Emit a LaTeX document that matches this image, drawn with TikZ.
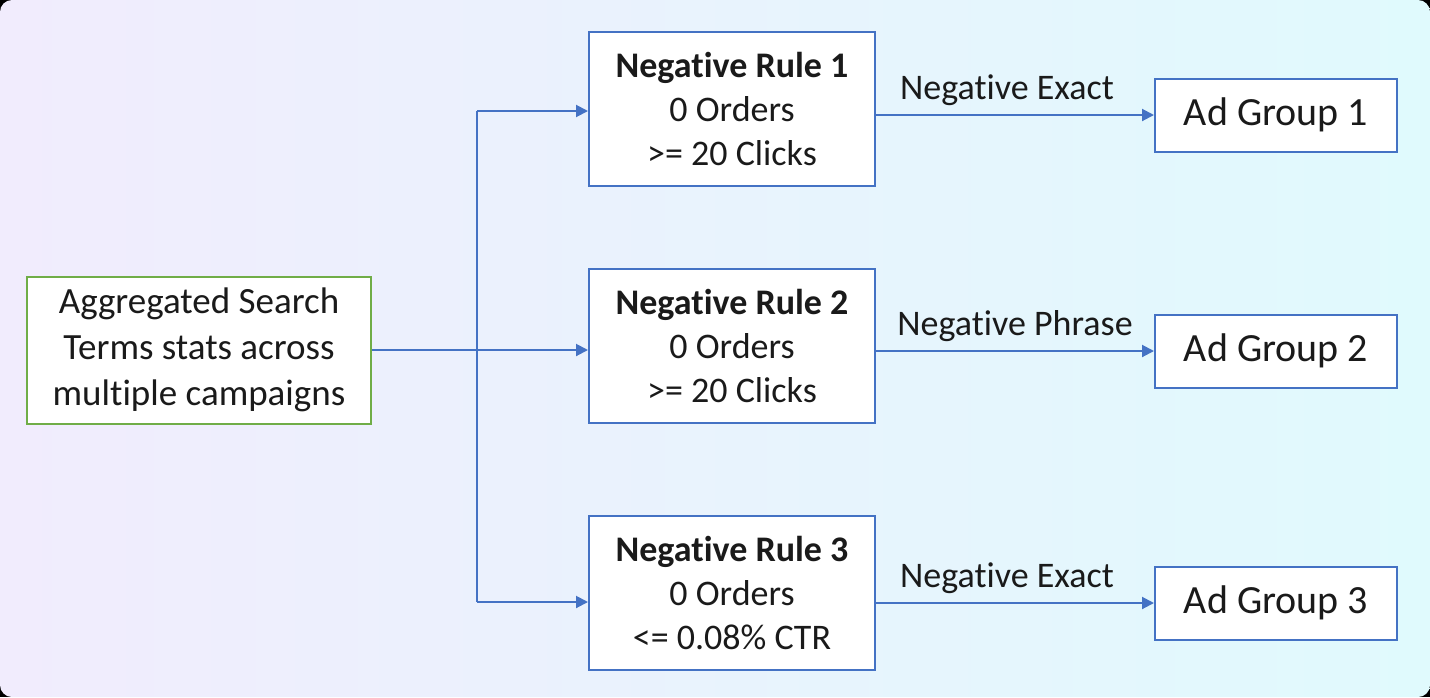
\documentclass[tikz,border=0pt]{standalone}
\usepackage{fontspec}
\setmainfont[Ligatures=NoCommon]{Carlito}
\usetikzlibrary{arrows.meta}
\definecolor{flowblue}{HTML}{4472C4}
\definecolor{srcgreen}{HTML}{70AD47}
\definecolor{bgleft}{HTML}{F1ECFD}
\definecolor{bgright}{HTML}{E0FAFD}
\definecolor{ink}{HTML}{1A1A1A}
\tikzset{
  srcbox/.style={draw=srcgreen, line width=1pt, fill=white, minimum width=172pt, minimum height=73.5pt, align=center, inner sep=0pt, text=ink, font=\fontsize{18.5}{23}\selectfont},
  rulebox/.style={draw=flowblue, line width=1pt, fill=white, minimum width=143pt, minimum height=77pt, align=center, inner sep=0pt, text=ink, font=\fontsize{18}{22}\selectfont},
  groupbox/.style={draw=flowblue, line width=1pt, fill=white, minimum width=121pt, minimum height=36.5pt, inner sep=0pt, text=ink, font=\fontsize{20}{24}\selectfont},
  flowline/.style={draw=flowblue, line width=1pt},
  flowarrow/.style={flowline, -{Triangle[length=6pt, width=6pt]}},
  matchlabel/.style={midway, above=1pt, text=ink, font=\fontsize{18}{22}\selectfont}
}
\begin{document}
\begin{tikzpicture}[x=0.5pt, y=-0.5pt]
	\useasboundingbox (0,0) rectangle (1430,697);
	\fill [black] (0,0) rectangle (1430,697);
	\shade [left color=bgleft, right color=bgright, rounded corners=6pt] (0,0) rectangle (1430,697);
	%
	\node [srcbox] (src) at (199,350) {Aggregated Search\\Terms stats across\\multiple campaigns};
	\node [rulebox] (r1) at (732,109) {\textbf{Negative Rule 1}\\0 Orders\\>= 20 Clicks};
	\node [rulebox] (r2) at (732,346) {\textbf{Negative Rule 2}\\0 Orders\\>= 20 Clicks};
	\node [rulebox] (r3) at (732,593) {\textbf{Negative Rule 3}\\0 Orders\\<= 0.08\% CTR};
	\node [groupbox] (a1) at (1276,115) {Ad Group 1};
	\node [groupbox] (a2) at (1276,351) {Ad Group 2};
	\node [groupbox] (a3) at (1276,603) {Ad Group 3};
	%
	\coordinate (split) at (477,350);
	\coordinate (splittop) at (477,111);
	\coordinate (splitbot) at (477,602);
	\draw [flowline] (src.east |- split) -- (split);
	\draw [flowline] (splittop) -- (splitbot);
	\draw [flowarrow] (splittop) -- (splittop -| r1.west);
	\draw [flowarrow] (split) -- (split -| r2.west);
	\draw [flowarrow] (splitbot) -- (splitbot -| r3.west);
	%
	\draw [flowarrow] (r1.east |- a1.west) -- (a1.west) node [matchlabel, xshift=-4pt] {Negative Exact};
	\draw [flowarrow] (r2.east |- a2.west) -- (a2.west) node [matchlabel] {Negative Phrase};
	\draw [flowarrow] (r3.east |- a3.west) -- (a3.west) node [matchlabel, xshift=-4pt] {Negative Exact};
\end{tikzpicture}
\end{document}
